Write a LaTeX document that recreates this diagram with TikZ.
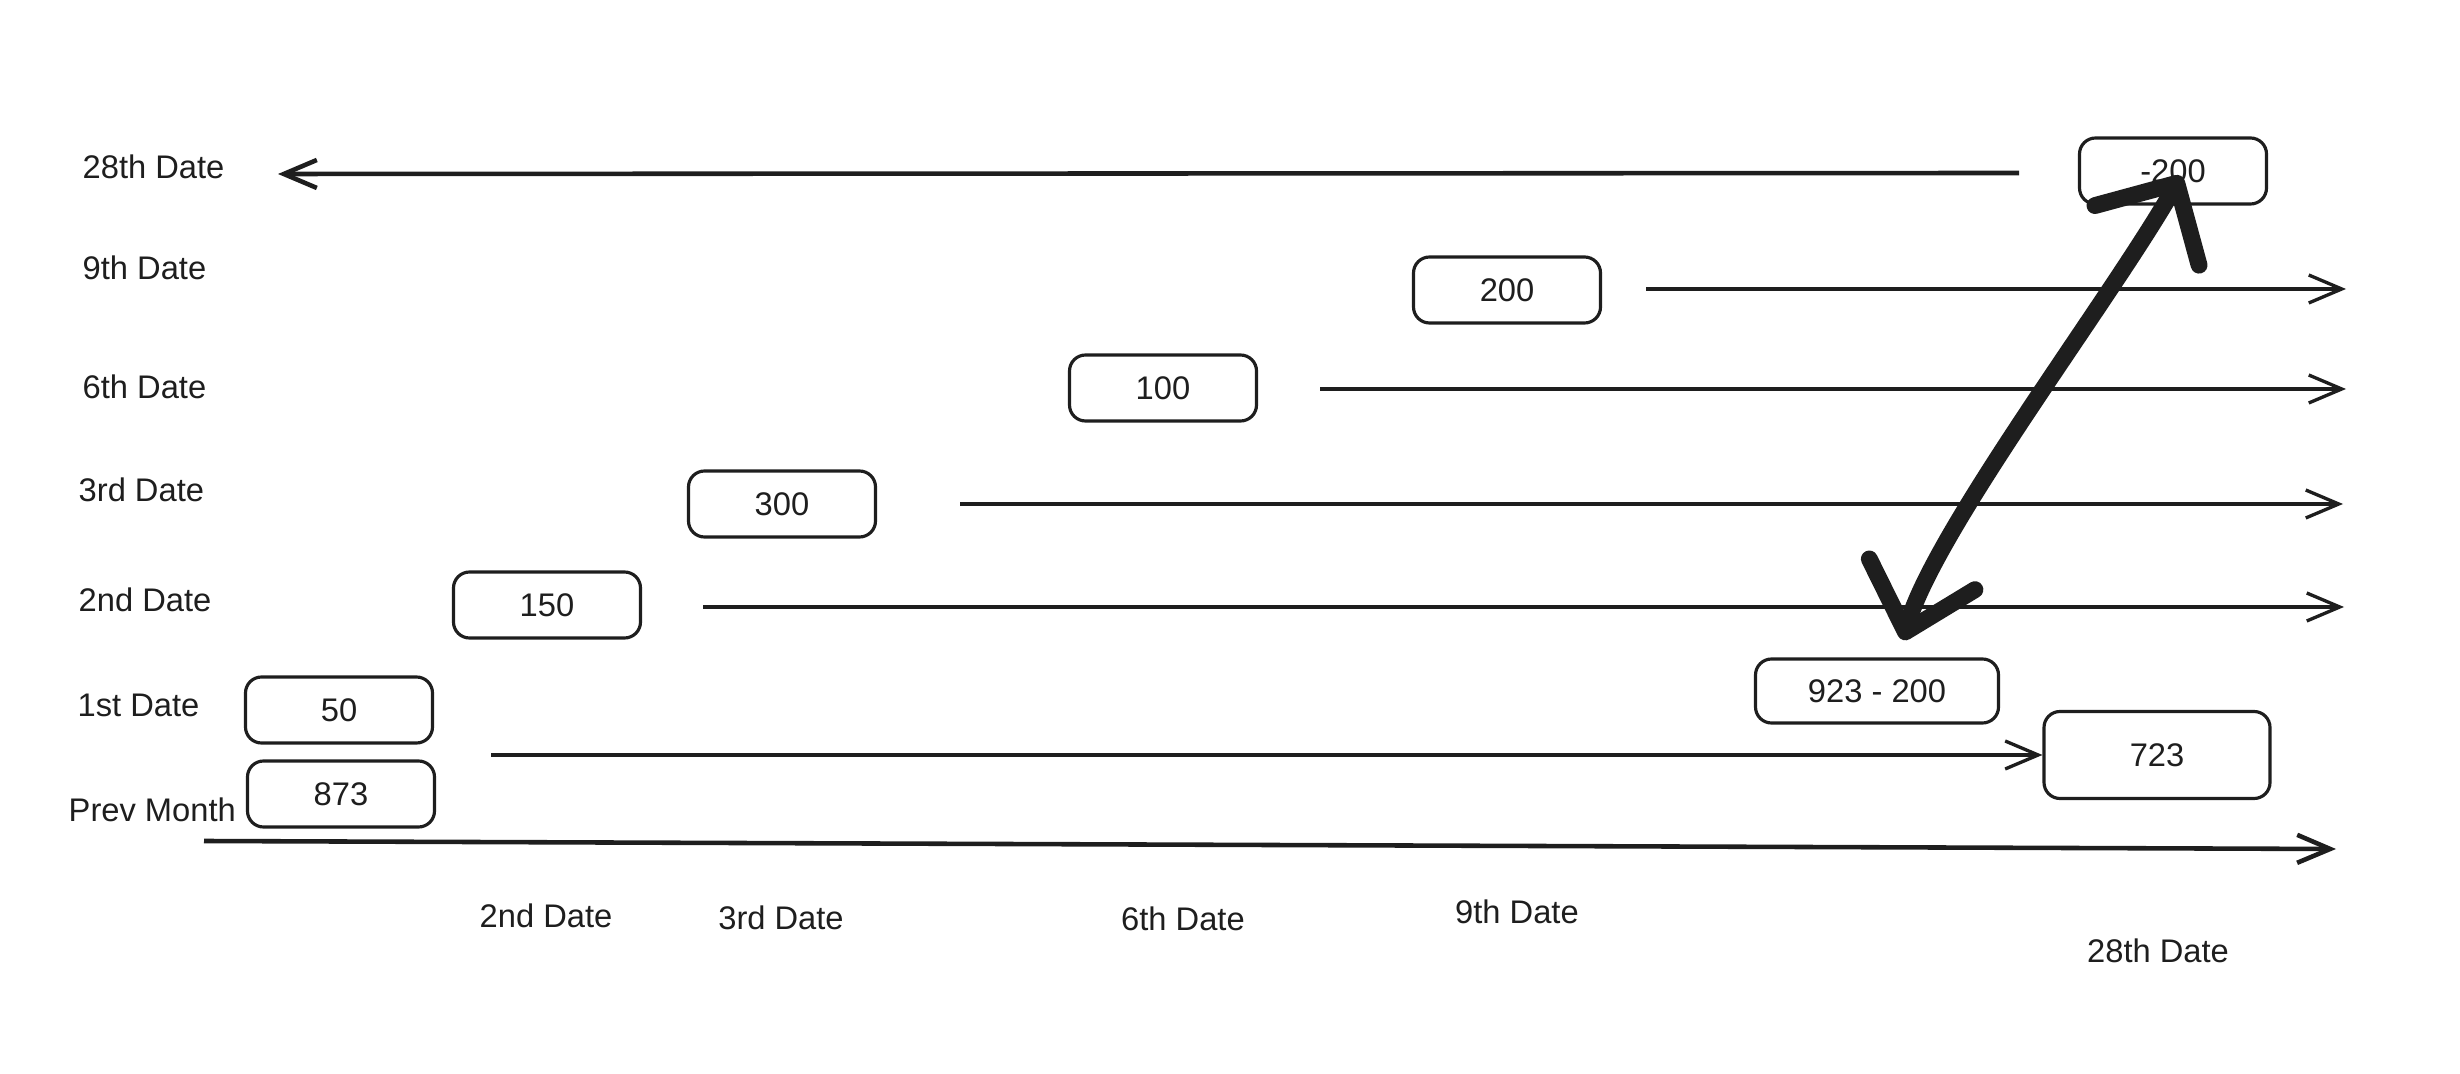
\documentclass[tikz,border=0pt]{standalone}
\usepackage{fontspec}
\setmainfont{Liberation Sans}
\usetikzlibrary{arrows.meta}
\definecolor{ink}{HTML}{1E1E1E}
\begin{document}
\begin{tikzpicture}[x=0.1mm,y=-0.1mm,
  val/.style={draw=ink, line width=0.9pt, rounded corners=1.6mm, minimum width=18.7mm, minimum height=6.6mm, inner sep=0pt, font=\fontsize{9.3}{11}\selectfont, text=ink},
  lbl/.style={anchor=west, inner sep=0pt, font=\fontsize{9.3}{11}\selectfont, text=ink},
  blbl/.style={inner sep=0pt, font=\fontsize{9.3}{11}\selectfont, text=ink},
  tl/.style={draw=ink, line width=0.95pt, -{Straight Barb[length=3.3mm,width=2.8mm]}},
  tlb/.style={tl, line width=1.3pt},
  big/.style={draw=ink, line width=4.8pt, line cap=round, line join=round,
    {Straight Barb[length=6mm,width=12mm,round]}-{Straight Barb[length=6mm,width=11mm,round]}}
]
\useasboundingbox (0,0) rectangle (2460,1074);

% left labels
\node[lbl] (l28) at (82,167) {28th Date};
\node[lbl] (l9) at (82,268) {9th Date};
\node[lbl] (l6) at (82,387) {6th Date};
\node[lbl] (l3) at (78,490) {3rd Date};
\node[lbl] (l2) at (78,600) {2nd Date};
\node[lbl] (l1) at (77,705) {1st Date};
\node[lbl] (lp) at (68,810) {Prev Month};

% value boxes
\node[val] (b50) at (339,710) {50};
\node[val] (b873) at (341,794) {873};
\node[val] (b150) at (547,605) {150};
\node[val] (b300) at (782,504) {300};
\node[val] (b100) at (1163,388) {100};
\node[val] (b200) at (1507,290) {200};
\node[val] (bm200) at (2173,171) {-200};
\node[val, minimum width=24.3mm, minimum height=6.4mm] (b923) at (1877,691) {923 - 200};
\node[val, minimum width=22.6mm, minimum height=8.7mm] (b723) at (2157,755) {723};

% bottom labels
\node[blbl] (d2) at (546,916) {2nd Date};
\node[blbl] (d3) at (781,918) {3rd Date};
\node[blbl] (d6) at (1183,919) {6th Date};
\node[blbl] (d9) at (1517,912) {9th Date};
\node[blbl] (d28) at (2158,951) {28th Date};

% arrow end points
\coordinate (s28) at (2019,173);
\coordinate (e28) at (278,174);
\coordinate (s9) at (1646,289);
\coordinate (e9) at (2346,289);
\coordinate (s6) at (1320,389);
\coordinate (e6) at (2346,389);
\coordinate (s3) at (960,504);
\coordinate (e3) at (2343,504);
\coordinate (s2) at (703,607);
\coordinate (e2) at (2344,607);
\coordinate (s1) at (491,755);
\coordinate (sp) at (204,841);
\coordinate (ep) at (2336,849);
\coordinate (ttop) at (2181,176);
\coordinate (tbot) at (1903,640);

\draw[tlb] (s28) -- (e28);
\draw[tl] (s9) -- (e9);
\draw[tl] (s6) -- (e6);
\draw[tl] (s3) -- (e3);
\draw[tl] (s2) -- (e2);
\draw[tl] (s1) -- (b723.west);
\draw[tlb] (sp) -- (ep);

\draw[big] (ttop) .. controls (2110,300) and (1935,530) .. (tbot);
\end{tikzpicture}
\end{document}
